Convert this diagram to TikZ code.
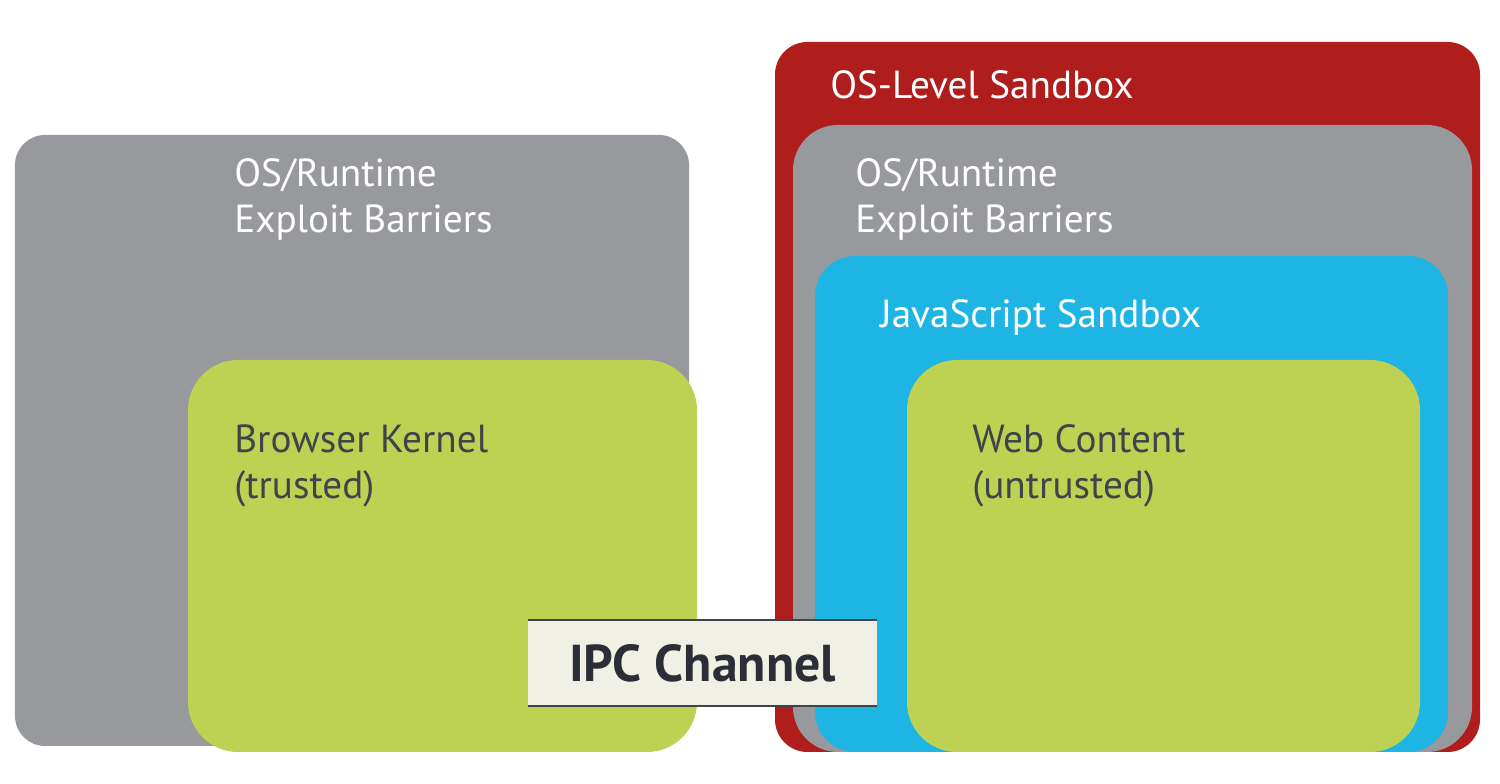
\documentclass[tikz,border=0pt]{standalone}
\usepackage{fontspec}
\setmainfont{PT Sans}
\usepackage{tikz}
\usetikzlibrary{positioning}

\definecolor{sbred}{HTML}{B01D1D}
\definecolor{sbgray}{HTML}{98999D}
\definecolor{sbblue}{HTML}{1EB5E4}
\definecolor{sbgreen}{HTML}{BDD252}
\definecolor{sbcream}{HTML}{F0F0E4}
\definecolor{sbdark}{HTML}{2B2E36}

\begin{document}
\begin{tikzpicture}[box/.style={rectangle, inner sep=0pt, rounded corners=#1},
  light/.style={text=white, anchor=base west, align=left, inner sep=0pt, font=\fontsize{22.3}{26.2}\selectfont},
  dark/.style={text=sbdark!90, anchor=base west, align=left, inner sep=0pt, font=\fontsize{22.3}{26.2}\selectfont}]
\useasboundingbox (0,0) rectangle (30,15.68);
% left side: browser kernel
\node[box=0.6cm, fill=sbgray, minimum width=13.48cm, minimum height=12.22cm] (lbarrier) at (7.04,6.87) {};
\node[box=1cm, fill=sbgreen, minimum width=10.18cm, minimum height=7.84cm] (kernel) at (8.85,4.56) {};
\node[light] (lbarriertext) at (4.68,11.02) {OS/Runtime\\Exploit Barriers};
\node[dark] (kerneltext) at (4.68,5.7) {Browser Kernel\\(trusted)};
% right side: rendering engine
\node[box=0.65cm, fill=sbred, minimum width=14.1cm, minimum height=14.2cm] (ossandbox) at (22.55,7.74) {};
\node[box=0.9cm, fill=sbgray, minimum width=13.58cm, minimum height=12.54cm] (rbarrier) at (22.65,6.91) {};
\node[box=0.8cm, fill=sbblue, minimum width=12.66cm, minimum height=9.92cm] (jssandbox) at (22.63,5.6) {};
\node[box=1cm, fill=sbgreen, minimum width=10.26cm, minimum height=7.84cm] (content) at (23.27,4.56) {};
\node[light] (ossandboxtext) at (16.6,13.7) {OS-Level Sandbox};
\node[light] (rbarriertext) at (17.1,11.02) {OS/Runtime\\Exploit Barriers};
\node[light] (jssandboxtext) at (17.6,9.12) {JavaScript Sandbox};
\node[dark] (contenttext) at (19.44,5.7) {Web Content\\(untrusted)};
% ipc channel
\node[rectangle, fill=sbcream, minimum width=6.98cm, minimum height=1.72cm, text=sbdark,
  font=\fontsize{29.5}{32}\selectfont\bfseries] (ipc) at (14.05,2.42) {IPC Channel};
\draw[draw=sbdark!90, line width=1.2pt] (ipc.north west) -- (ipc.north east);
\draw[draw=sbdark!90, line width=1.2pt] (ipc.south west) -- (ipc.south east);
\end{tikzpicture}
\end{document}
